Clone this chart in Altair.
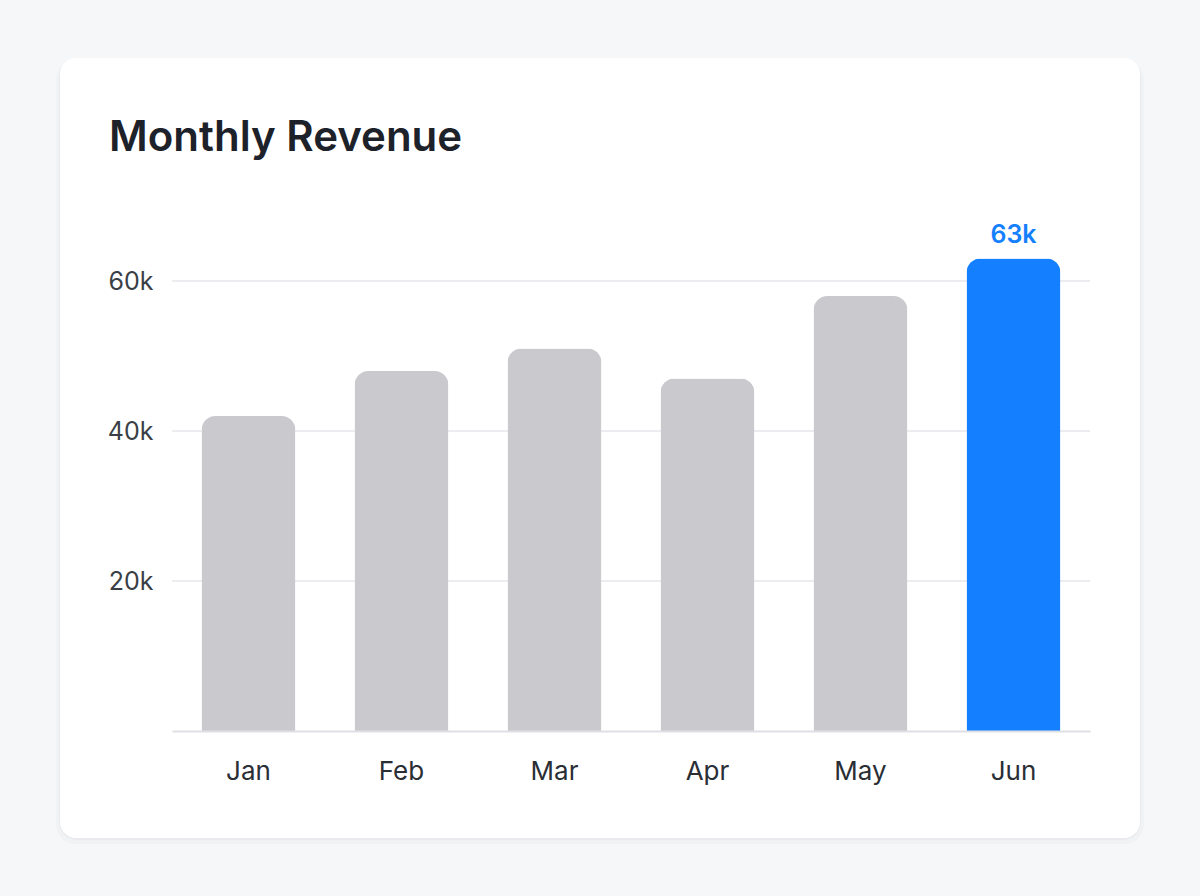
import altair as alt
import pandas as pd

# Monthly revenue figures (USD)
months = ["Jan", "Feb", "Mar", "Apr", "May", "Jun"]
revenue = [42000, 48000, 51000, 47000, 58000, 63000]
highlight_month = "Jun"
y_ticks = [20000, 40000, 60000]

GREY = "#c9c9ce"
BLUE = "#1480ff"
FONT = "Inter"

df = pd.DataFrame({"month": months, "revenue": revenue})
df["highlight"] = df["month"] == highlight_month
df["label"] = (df["revenue"] // 1000).astype(str) + "k"

W, H = 918, 525
PAD = {"left": 172, "top": 206, "right": 110, "bottom": 165}

x_enc = alt.X(
    "month:N",
    sort=months,
    scale=alt.Scale(paddingInner=0.386, paddingOuter=0.193),
    axis=alt.Axis(
        title=None, labelAngle=0, labelFont=FONT, labelFontSize=26,
        labelColor="#2a2e35", labelPadding=48, labelBaseline="alphabetic",
        ticks=False, domain=True, domainColor="#dfe0e5", domainWidth=2,
        grid=False, zindex=1,
    ),
)
y_scale = alt.Scale(domain=[0, 70000], nice=False)
y_axis = alt.Axis(
    title=None, values=y_ticks, labelExpr="datum.value / 1000 + 'k'",
    labelFont=FONT, labelFontSize=25, labelColor="#3a3f47",
    labelPadding=19, ticks=False, domain=False, grid=False, zindex=1,
)

one = pd.DataFrame({"k": [0]})

# card shadow and card surface, placed in pixel space around the plot area
shadow_outer = alt.Chart(one).mark_rect(
    cornerRadius=20, fill="#1c2430", opacity=0.025
).encode(x=alt.value(-116), x2=alt.value(972), y=alt.value(-146), y2=alt.value(638))
shadow_inner = alt.Chart(one).mark_rect(
    cornerRadius=18, fill="#1c2430", opacity=0.035
).encode(x=alt.value(-113), x2=alt.value(969), y=alt.value(-147), y2=alt.value(634))
card = alt.Chart(one).mark_rect(
    cornerRadius=16, fill="#ffffff"
).encode(x=alt.value(-112), x2=alt.value(968), y=alt.value(-148), y2=alt.value(632))

grid = alt.Chart(pd.DataFrame({"revenue": y_ticks})).mark_rule(
    color="#e6e7eb", strokeWidth=1.5
).encode(y=alt.Y("revenue:Q", scale=y_scale, axis=y_axis))

bars = alt.Chart(df).mark_bar(
    cornerRadiusTopLeft=14, cornerRadiusTopRight=14
).encode(
    x=x_enc,
    y=alt.Y("revenue:Q", scale=y_scale, axis=y_axis),
    color=alt.condition("datum.highlight", alt.value(BLUE), alt.value(GREY)),
)

value_label = alt.Chart(df).transform_filter("datum.highlight").mark_text(
    font=FONT, fontSize=25, fontWeight=600, color=BLUE,
    baseline="alphabetic", dy=-16,
).encode(x=alt.X("month:N", sort=months), y=alt.Y("revenue:Q", scale=y_scale), text="label:N")

title = alt.Chart(one).mark_text(
    text="Monthly Revenue", font=FONT, fontSize=42, fontWeight=600,
    color="#1d2129", align="left", baseline="alphabetic",
).encode(x=alt.value(-63), y=alt.value(-55))

chart = alt.layer(
    shadow_outer, shadow_inner, card, grid, bars, value_label, title
).properties(
    width=W, height=H,
    autosize=alt.AutoSizeParams(type="none"),
    padding=PAD,
    background="#f6f7f9",
).configure_view(stroke=None)

chart.save("out.html", embed_options={"renderer": "svg", "actions": False})
